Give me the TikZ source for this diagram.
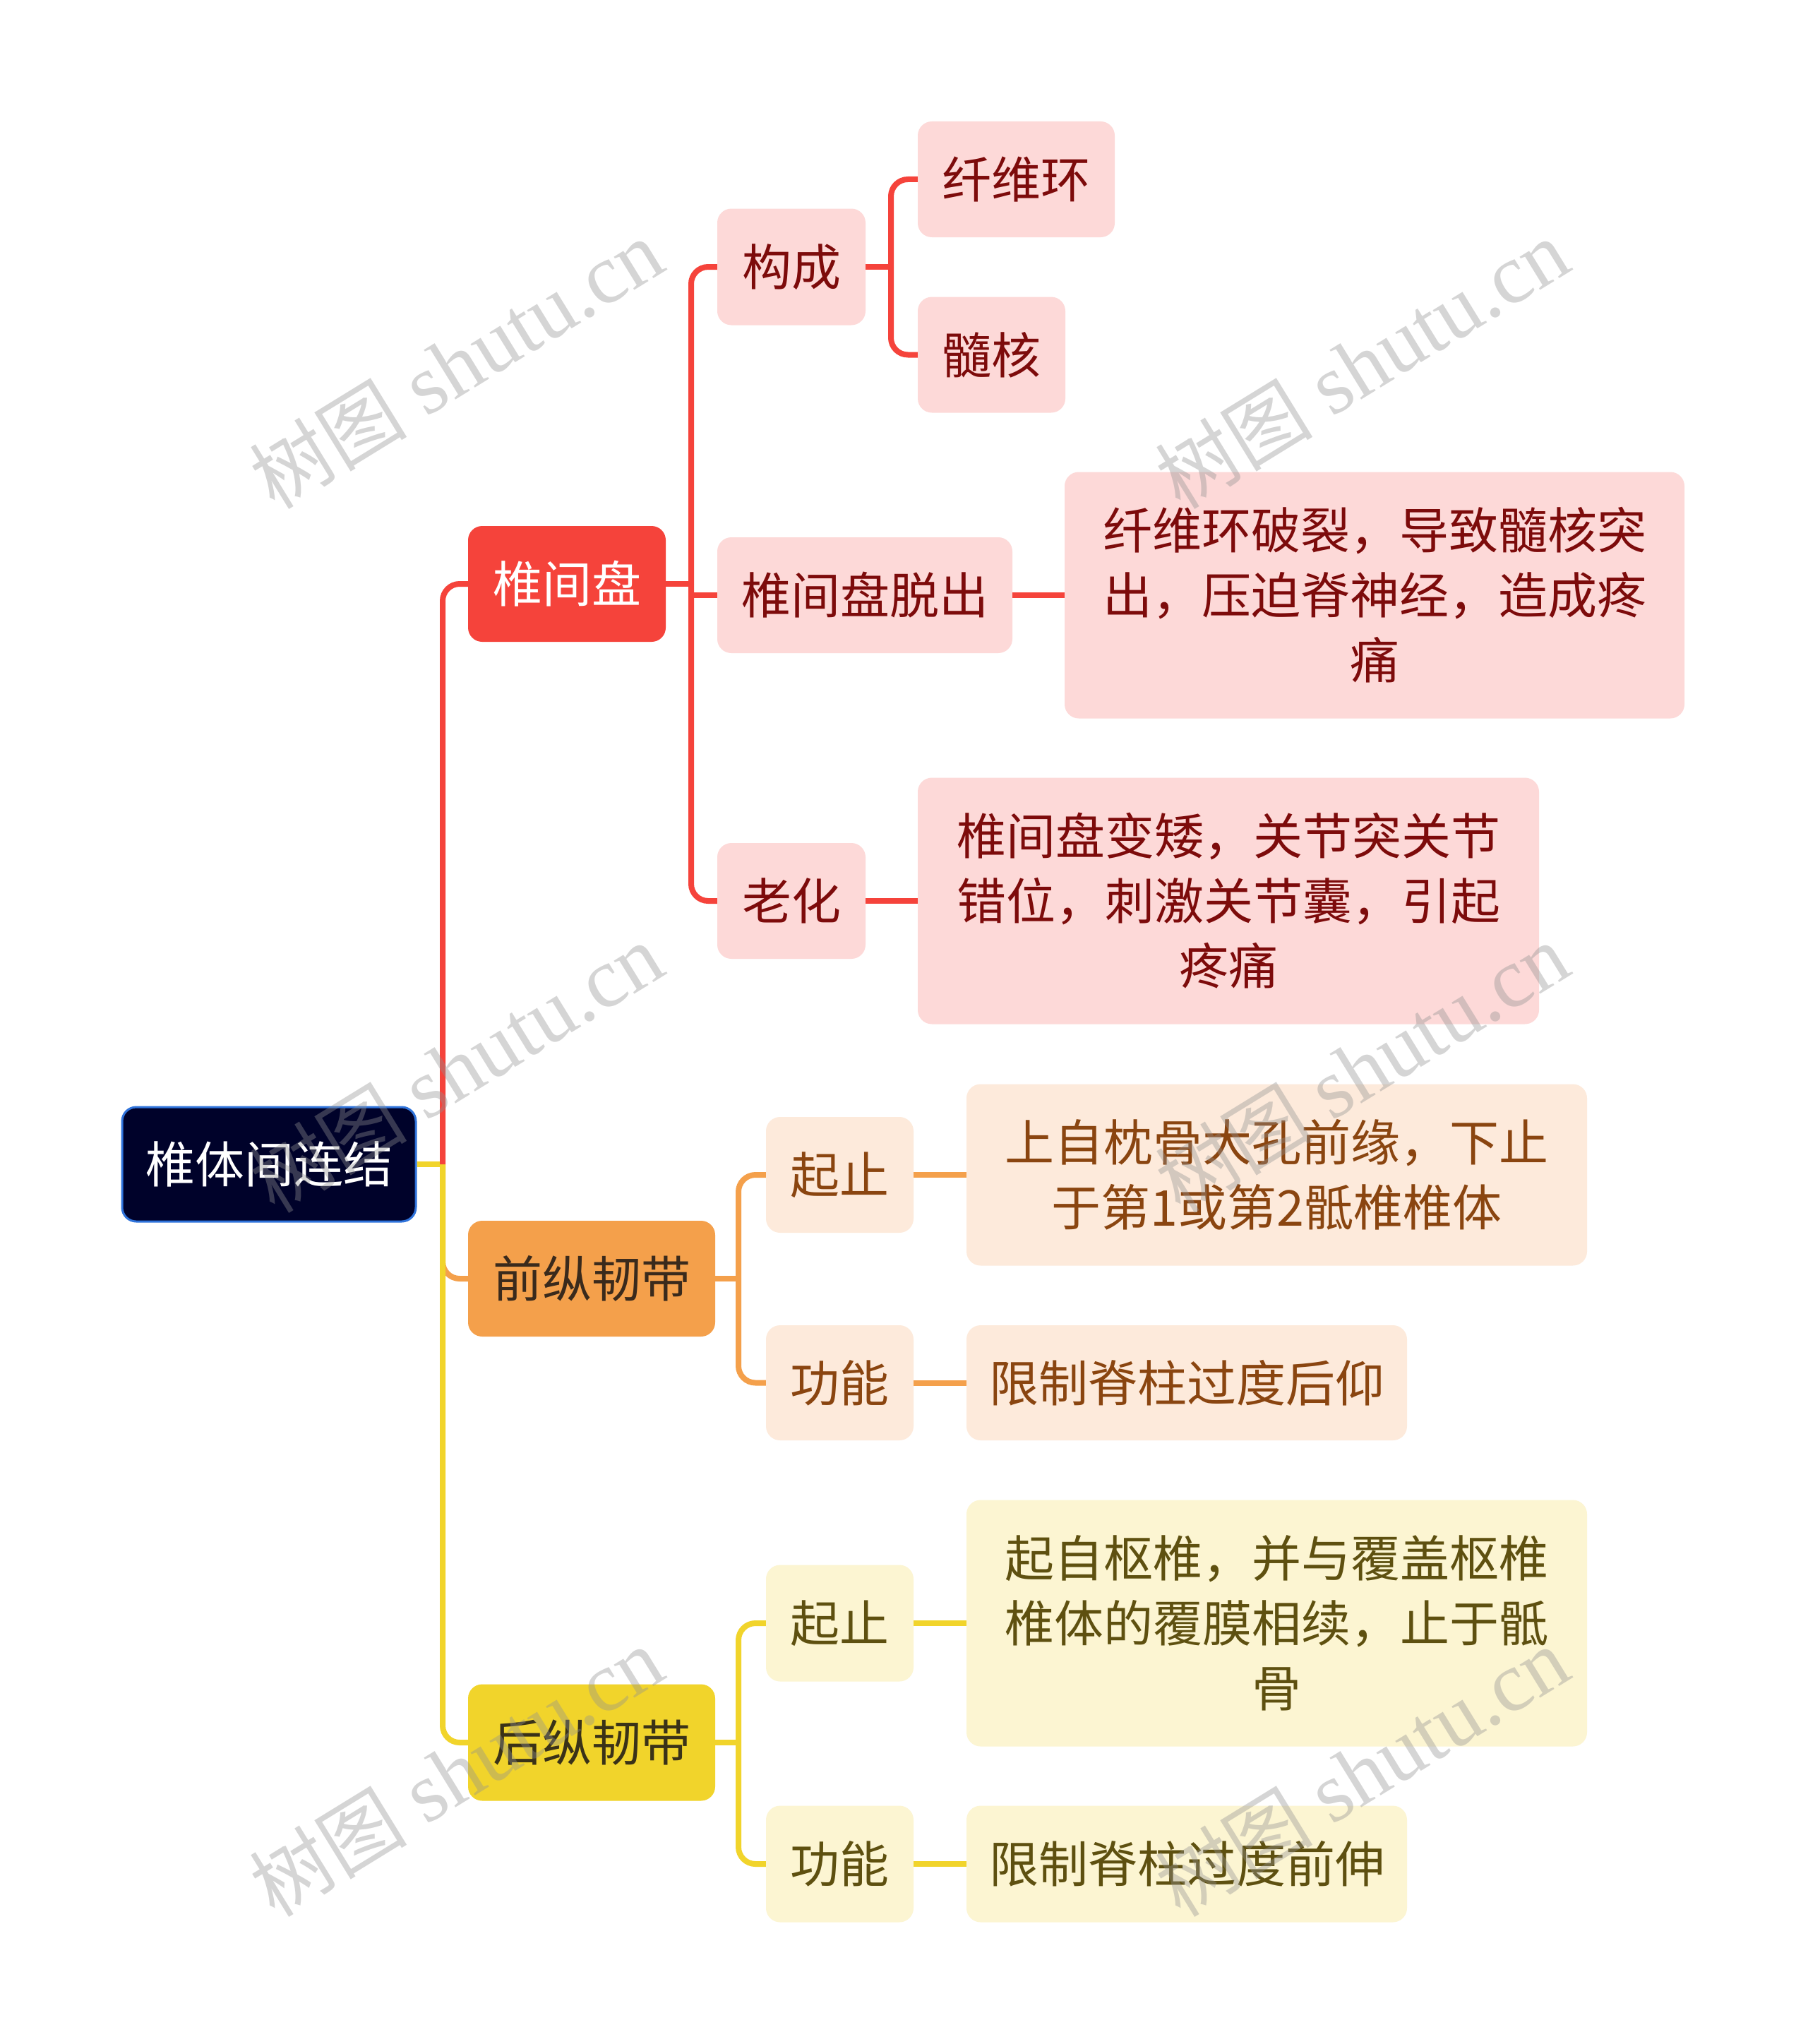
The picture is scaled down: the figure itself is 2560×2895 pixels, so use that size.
\documentclass[tikz,border=0pt]{standalone}
\usepackage{fontspec}
\newfontfamily\cjk{Noto Sans CJK SC}
\newfontfamily\wmlat{Liberation Serif}
\definecolor{rootfill}{HTML}{00022A}
\definecolor{rootborder}{HTML}{2F73DB}
\definecolor{redS}{HTML}{F5433B}
\definecolor{redL}{HTML}{FDD9D8}
\definecolor{redT}{HTML}{7D0B0B}
\definecolor{oraS}{HTML}{F4A04B}
\definecolor{oraL}{HTML}{FDEADB}
\definecolor{oraT}{HTML}{8A4510}
\definecolor{oraD}{HTML}{3A2A1C}
\definecolor{yelS}{HTML}{F1D42B}
\definecolor{yelL}{HTML}{FCF5D2}
\definecolor{yelT}{HTML}{5E5010}
\definecolor{yelD}{HTML}{3A3218}
\definecolor{wmgray}{HTML}{919191}
\begin{document}
\begin{tikzpicture}[x=1pt,y=1pt,
  box/.style={rounded corners=20pt, inner sep=0pt, align=center,
    font=\cjk\fontsize{70}{92}\selectfont},
  rootbox/.style={box, fill=rootfill, draw=rootborder, line width=3pt, text=white},
  redone/.style={box, fill=redS, text=white},
  redtwo/.style={box, fill=redL, text=redT},
  oraone/.style={box, fill=oraS, text=oraD},
  oratwo/.style={box, fill=oraL, text=oraT},
  yelone/.style={box, fill=yelS, text=yelD},
  yeltwo/.style={box, fill=yelL, text=yelT},
  rline/.style={draw=redS, line width=8pt, rounded corners=24pt},
  oline/.style={draw=oraS, line width=8pt, rounded corners=24pt},
  yline/.style={draw=yelS, line width=8pt, rounded corners=24pt},
  wm/.style={text=wmgray, text opacity=0.38, rotate=31.6, inner sep=0pt}
]
\useasboundingbox[fill=white] (0,0) rectangle (2560,-2895);

% nodes
\node[rootbox, minimum width=416, minimum height=162] (root) at (381,-1649) {椎体间连结};
\node[redone, minimum width=280, minimum height=164] (disc) at (803,-827) {椎间盘};
\node[oraone, minimum width=350, minimum height=164] (qz) at (838,-1811) {前纵韧带};
\node[yelone, minimum width=350, minimum height=165] (hz) at (838,-2468) {后纵韧带};

\node[redtwo, minimum width=210, minimum height=165] (gc) at (1121,-378) {构成};
\node[redtwo, minimum width=418, minimum height=164] (tc) at (1225,-843) {椎间盘脱出};
\node[redtwo, minimum width=210, minimum height=164] (lh) at (1121,-1276) {老化};

\node[redtwo, minimum width=279, minimum height=164] (xw) at (1439.5,-254) {纤维环};
\node[redtwo, minimum width=209, minimum height=164] (sh) at (1404.5,-502.5) {髓核};
\node[redtwo, minimum width=878, minimum height=349] (tcd) at (1947,-843)
  {纤维环破裂，导致髓核突\\出，压迫脊神经，造成疼\\痛};
\node[redtwo, minimum width=880, minimum height=349] (lhd) at (1740,-1276)
  {椎间盘变矮，关节突关节\\错位，刺激关节囊，引起\\疼痛};

\node[oratwo, minimum width=209, minimum height=164] (qzq) at (1189.5,-1664) {起止};
\node[oratwo, minimum width=879, minimum height=257] (qzqd) at (1808.5,-1664)
  {上自枕骨大孔前缘，下止\\于第1或第2骶椎椎体};
\node[oratwo, minimum width=209, minimum height=163] (qzg) at (1189.5,-1958.5) {功能};
\node[oratwo, minimum width=624, minimum height=163] (qzgd) at (1681,-1958.5) {限制脊柱过度后仰};

\node[yeltwo, minimum width=209, minimum height=165] (hzq) at (1189.5,-2299) {起止};
\node[yeltwo, minimum width=879, minimum height=349] (hzqd) at (1808.5,-2299)
  {起自枢椎，并与覆盖枢椎\\椎体的覆膜相续，止于骶\\骨};
\node[yeltwo, minimum width=209, minimum height=165] (hzg) at (1189.5,-2640) {功能};
\node[yeltwo, minimum width=624, minimum height=165] (hzgd) at (1681,-2640) {限制脊柱过度前伸};

% junction coordinates
\coordinate (t0) at (627,-1649);
\coordinate (t1) at (979,-827);
\coordinate (t2) at (1262,-378);
\coordinate (t3) at (1046,-1811);
\coordinate (t4) at (1046,-2468);

% root level connectors
\draw[oline] (t0) |- (qz.west);
\draw[yline] (root.east) -- (t0);
\draw[yline] (t0) |- (hz.west);
\draw[rline] (t0) |- (disc.west);

% red branch
\draw[rline] (disc.east) -- (t1);
\draw[rline] (t1) |- (gc.west);
\draw[rline] (t1) |- (lh.west);
\draw[rline] (t1 |- tc.west) -- (tc.west);
\draw[rline] (gc.east) -- (t2);
\draw[rline] (t2) |- (xw.west);
\draw[rline] (t2) |- (sh.west);
\draw[rline] (tc.east) -- (tcd.west);
\draw[rline] (lh.east) -- (lhd.west);

% orange branch
\draw[oline] (qz.east) -- (t3);
\draw[oline] (t3) |- (qzq.west);
\draw[oline] (t3) |- (qzg.west);
\draw[oline] (qzq.east) -- (qzqd.west);
\draw[oline] (qzg.east) -- (qzgd.west);

% yellow branch
\draw[yline] (hz.east) -- (t4);
\draw[yline] (t4) |- (hzq.west);
\draw[yline] (t4) |- (hzg.west);
\draw[yline] (hzq.east) -- (hzqd.west);
\draw[yline] (hzg.east) -- (hzgd.west);

% watermarks
\foreach \wx/\wy [count=\i] in {646/516, 1929/516, 646/1513, 1929/1513, 646/2510, 1929/2510}{
  \node[wm] (wm\i) at (\wx,-\wy) {\cjk\fontsize{112}{112}\selectfont 树图\hspace{28pt}\wmlat\fontsize{120}{120}\selectfont shutu.cn};
}
\end{tikzpicture}
\end{document}
